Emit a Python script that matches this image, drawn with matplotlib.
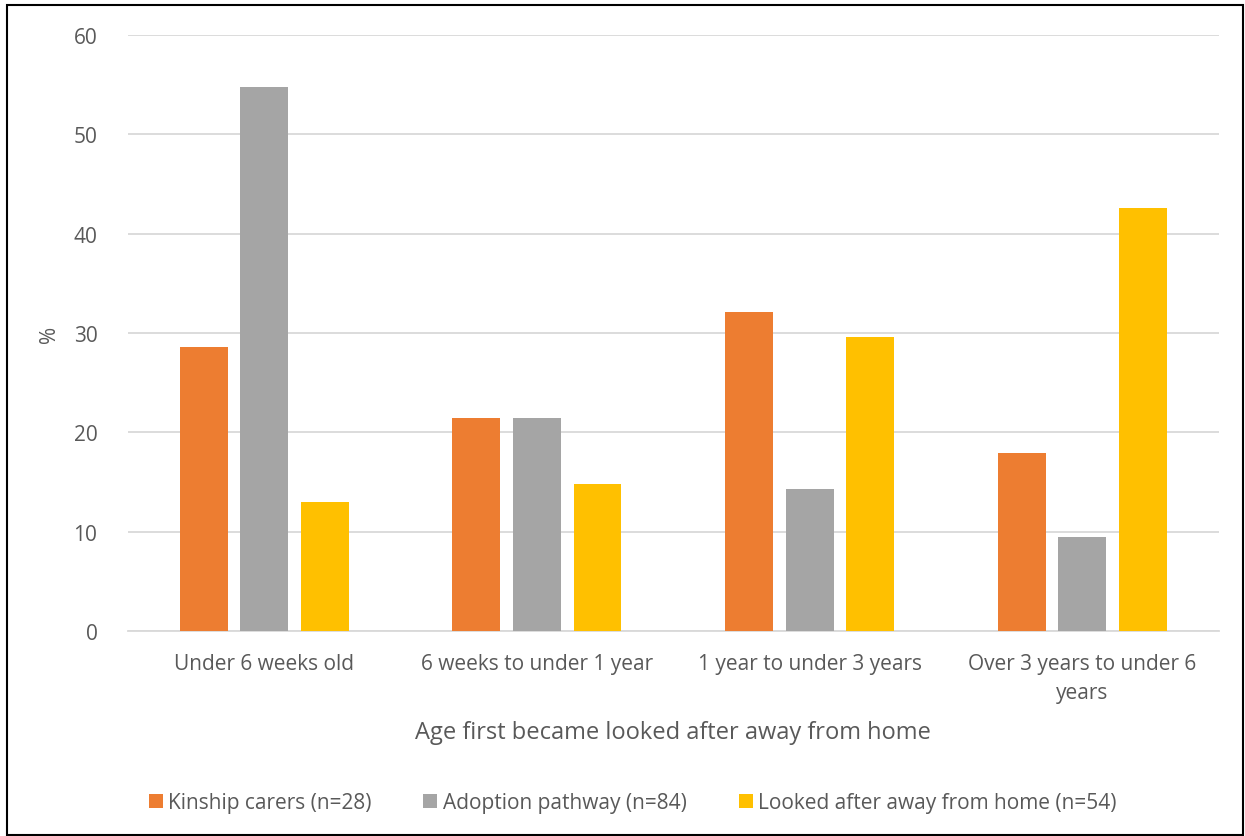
import numpy as np
import matplotlib.pyplot as plt
from matplotlib.patches import Rectangle

# categorias e valores (%)
categorias = ['Under 6 weeks old', '6 weeks to under 1 year',
              '1 year to under 3 years', 'Over 3 years to under 6\nyears']
kinship = [28.6, 21.4, 32.1, 17.9]
adoption = [54.8, 21.4, 14.3, 9.5]
looked_after = [13.0, 14.8, 29.6, 42.6]
series_nomes = ['Kinship carers (n=28)', 'Adoption pathway (n=84)',
                'Looked after away from home (n=54)']
cores = ['#ED7D31', '#A5A5A5', '#FFC000']

plt.rcParams['font.family'] = ['Open Sans', 'DejaVu Sans']
txt = '#595959'

fig = plt.figure(figsize=(12.45, 8.37), dpi=100)
ax = fig.add_axes([0.1028, 0.245, 0.876, 0.712])

x = np.arange(len(categorias))
largura = 0.176
passo = 0.222
for i, (vals, nome, cor) in enumerate(zip([kinship, adoption, looked_after], series_nomes, cores)):
    ax.bar(x + (i - 1) * passo, vals, largura, color=cor, label=nome, zorder=3)

ax.set_xlim(-0.5, 3.5)
ax.set_ylim(0, 60)
ax.set_yticks(range(0, 61, 10))
ax.grid(axis='y', color='#D9D9D9', linewidth=1.3, zorder=0)
for s in ['top', 'right', 'left']:
    ax.spines[s].set_visible(False)
ax.spines['bottom'].set_color('#D9D9D9')
ax.spines['bottom'].set_linewidth(1.3)
ax.tick_params(length=0, labelsize=15, colors=txt)
ax.tick_params(axis='x', pad=16)
ax.tick_params(axis='y', pad=22)
ax.set_xticks(x)
ax.set_xticklabels(categorias, linespacing=1.5)
ax.set_ylabel('%', fontsize=15, color=txt, labelpad=10)
ax.set_xlabel('Age first became looked after away from home', fontsize=17, color=txt, labelpad=12)

leg = fig.legend(loc='center', bbox_to_anchor=(0.508, 0.04), ncol=3, frameon=False,
                 fontsize=15, handlelength=0.67, handleheight=0.67, handletextpad=0.25,
                 columnspacing=2.5)
for t in leg.get_texts():
    t.set_color(txt)

# moldura da figura
fig.patches.append(Rectangle((7 / 1245, 0.001), 1236 / 1245, 1 - 6 / 837 - 0.001,
                             transform=fig.transFigure, fill=False, edgecolor='black',
                             linewidth=1.5))

fig.savefig('out.png', dpi=100)
